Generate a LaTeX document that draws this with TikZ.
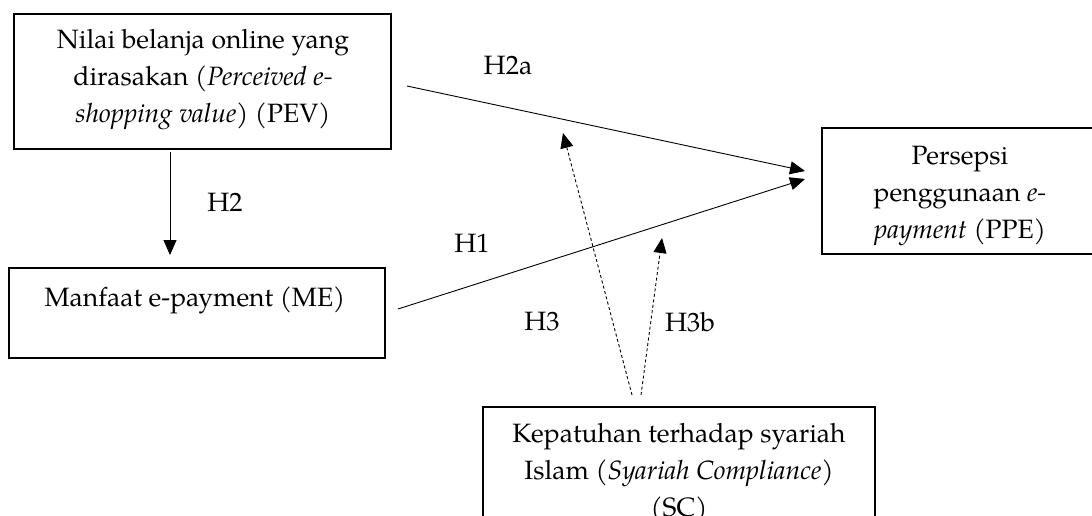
\documentclass[tikz,border=0pt]{standalone}
\usepackage{fontspec}
\setmainfont{TeX Gyre Pagella}
\usetikzlibrary{arrows.meta,calc}
\tikzset{
  box/.style={draw=black, line width=1.2pt, inner sep=0pt, outer sep=0pt},
  txt/.style={align=center, inner sep=0pt, font=\fontsize{26.5}{37}\selectfont},
  lbl/.style={inner sep=0pt, font=\fontsize{26.5}{37}\selectfont},
  arr/.style={line width=0.9pt, -{Triangle[length=15pt,width=13pt]}},
  darr/.style={arr, dash pattern=on 3pt off 2.5pt}
}
\begin{document}
\begin{tikzpicture}[x=1pt,y=-1pt]
\useasboundingbox (0,0) rectangle (1092,516);
\clip (0,0) rectangle (1092,516);
% boxes
\node[box, minimum width=377pt, minimum height=135pt] (pev) at (202.5,81.5) {};
\node[box, minimum width=376pt, minimum height=90pt] (me) at (197,313) {};
\node[box, minimum width=290pt, minimum height=126pt] (ppe) at (967,191) {};
\node[box, minimum width=392pt, minimum height=140pt] (sc) at (679,477) {};
% texts
\node[txt] (tpev) at (203,80) {Nilai belanja online yang\\dirasakan (\textit{Perceived e-}\\\textit{shopping value}) (PEV)};
\node[txt] (tme) at (195,300) {Manfaat e-payment (ME)};
\node[txt] (tppe) at (960,196) {Persepsi\\penggunaan \textit{e-}\\\textit{payment} (PPE)};
\node[txt] (tsc) at (679,473) {Kepatuhan terhadap syariah\\Islam (\textit{Syariah Compliance})\\(SC)};
% labels
\node[lbl] (lh2a) at (508,65) {H2a};
\node[lbl] (lh2) at (225,202) {H2};
\node[lbl] (lh1) at (472,243) {H1};
\node[lbl] (lh3) at (542,322) {H3};
\node[lbl] (lh3b) at (690,322) {H3b};
% free ends
\coordinate (h3tip) at (563,133);
\coordinate (h3btip) at (662,238);
% connectors
\draw[arr] ([shift={(-32.5,3)}]pev.south) -- ([shift={(-27,-13)}]me.north);
\draw[arr] ([shift={(16,4.5)}]pev.east) -- ([shift={(-17,-20)}]ppe.west);
\draw[arr] ([shift={(13,-4)}]me.east) -- ([shift={(-17,-12)}]ppe.west);
\draw[darr] ([shift={(-47,-12)}]sc.north) -- (h3tip);
\draw[darr] ([shift={(-38,-12)}]sc.north) -- (h3btip);
\end{tikzpicture}
\end{document}
